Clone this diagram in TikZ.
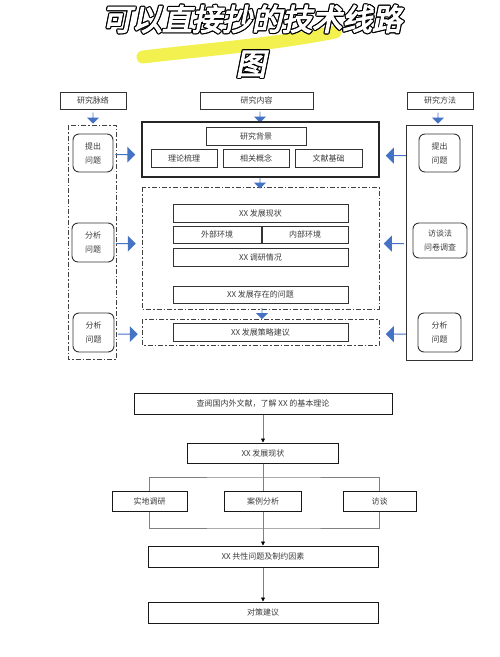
\documentclass[tikz,border=0pt]{standalone}
\usepackage{fontspec}
\usetikzlibrary{arrows.meta,shapes.arrows}
\newfontfamily\cjk{Noto Sans CJK SC}
\newfontfamily\cjkttl[FakeBold=4,FakeSlant=0.2]{Noto Sans CJK SC}
\definecolor{arrblue}{HTML}{4472C4}
\definecolor{txtgray}{HTML}{3A3A3A}
\definecolor{hilite}{HTML}{F2F03C}
\tikzset{
  box/.style={draw=black!80, line width=0.9pt, text=txtgray, inner sep=0pt,
    font=\cjk\fontsize{8}{9}\selectfont},
  rbox/.style={box, rounded corners=6pt, align=center,
    font=\cjk\fontsize{8}{14}\selectfont},
  fbox/.style={box, draw=black!90, line width=1pt},
  ddash/.style={draw=black!75, line width=0.9pt,
    dash pattern=on 5pt off 2pt on 1.5pt off 2pt},
  barrow/.style={single arrow, fill=arrblue, inner sep=0pt,
    single arrow head extend=3pt, minimum height=20pt, minimum width=16pt},
  sarrow/.style={barrow, rotate=-90, minimum height=11pt, minimum width=12pt,
    single arrow head extend=2.5pt},
  conn/.style={draw=black!50, line width=0.8pt},
  tip/.style={-{Triangle[length=4pt,width=4pt,color=black]}},
  ttl/.style={font=\cjkttl\fontsize{30}{32}\selectfont, inner sep=0pt}
}
\begin{document}
\begin{tikzpicture}[x=1pt, y=-1pt]
\useasboundingbox (0,0) rectangle (500,657);
% title
\draw [hilite, line width=13pt, line cap=round, opacity=0.9]
  (143,57) .. controls (200,50) and (270,45) .. (335,32);
\foreach \a in {0,45,...,315}{
  \node [ttl, text=black] (sh\a) at ([shift={(\a:1.2)}] 252,19) {可以直接抄的技术线路};
  \node [ttl, text=black] (shb\a) at ([shift={(\a:1.2)}] 251,64) {图};
}
\node [ttl, text=white] (title) at (252,19) {可以直接抄的技术线路};
\node [ttl, text=white] (title2) at (251,64) {图};

% headers
\node [box, minimum width=66, minimum height=17] (hmail) at (93,100.5) {研究脉络};
\node [box, minimum width=113, minimum height=17] (hcont) at (256.5,100.5) {研究内容};
\node [box, minimum width=66, minimum height=17] (hmeth) at (440,100.5) {研究方法};
\node [sarrow] (am) at (93,118) {};
\node [sarrow] (ac) at (260,117) {};
\node [sarrow] (ah) at (438,118) {};

% columns
\draw [ddash] (68,125) rectangle (116,359);
\draw [draw=black!80, line width=0.9pt] (406,125) rectangle (472,360);
\draw [draw=black!85, line width=1.6pt] (142,122) rectangle (379,177);
\draw [ddash] (142,187) rectangle (379,309);
\draw [ddash] (142,319) rectangle (379,345);

% research content
\node [box, minimum width=100, minimum height=18] (bg) at (256,136) {研究背景};
\node [box, minimum width=66, minimum height=18] (lilun) at (184,158) {理论梳理};
\node [box, minimum width=66, minimum height=18] (gainian) at (256,158) {相关概念};
\node [box, minimum width=67, minimum height=18] (wenxian) at (328.5,158) {文献基础};
\node [sarrow] (a1) at (260,183) {};
\node [box, minimum width=175, minimum height=18] (xianzhuang) at (260.5,213) {XX 发展现状};
\node [box, minimum width=88, minimum height=17] (waibu) at (217,234.5) {外部环境};
\node [box, minimum width=86, minimum height=17] (neibu) at (305,234.5) {内部环境};
\node [box, minimum width=175, minimum height=18] (diaoyan) at (260.5,257) {XX 调研情况};
\node [box, minimum width=175, minimum height=17] (wenti) at (260.5,294.5) {XX 发展存在的问题};
\node [sarrow] (a2) at (262,313.5) {};
\node [box, minimum width=175, minimum height=18] (celue) at (260.5,332) {XX 发展策略建议};

% left column
\node [rbox, minimum width=40, minimum height=38] (tichu1) at (93,153) {提出\\问题};
\node [rbox, minimum width=42, minimum height=39] (fenxi1) at (93,242.5) {分析\\问题};
\node [rbox, minimum width=41, minimum height=39] (fenxi2) at (93.5,332.5) {分析\\问题};
\node [barrow] (r1) at (125,154.5) {};
\node [barrow] (r2) at (125.5,243.5) {};
\node [barrow] (r3) at (127.5,334) {};

% right column
\node [rbox, minimum width=41, minimum height=38] (tichu2) at (439.5,153) {提出\\问题};
\node [rbox, minimum width=54, minimum height=35] (fangtan) at (440,240.5) {访谈法\\问卷调查};
\node [rbox, minimum width=43, minimum height=39] (fenxi3) at (439.5,332.5) {分析\\问题};
\node [barrow, rotate=180] (l1) at (396,155.5) {};
\node [barrow, rotate=180] (l2) at (394,243.5) {};
\node [barrow, rotate=180] (l3) at (396,334) {};

% flow chart
\node [fbox, minimum width=258, minimum height=21] (chayue) at (263,403.5) {查阅国内外文献，了解 XX 的基本理论};
\node [fbox, minimum width=151, minimum height=20] (xz) at (263,453) {XX 发展现状};
\node [fbox, minimum width=75, minimum height=20] (shidi) at (149.5,501) {实地调研};
\node [fbox, minimum width=77, minimum height=20] (anli) at (263,501) {案例分析};
\node [fbox, minimum width=73, minimum height=20] (ft) at (379.5,501) {访谈};
\node [fbox, minimum width=230, minimum height=21] (gongxing) at (263,556.5) {XX 共性问题及制约因素};
\node [fbox, minimum width=230, minimum height=21] (duice) at (263,612.5) {对策建议};
\coordinate (j1) at (263,477);
\coordinate (j2) at (263,528);
\draw [conn, tip] (chayue) -- (xz);
\draw [conn] (xz) -- (j1);
\draw [conn] (shidi) |- (j1) -| (ft);
\draw [conn] (j1) -- (anli);
\draw [conn] (shidi) |- (j2) -| (ft);
\draw [conn] (anli) -- (j2);
\draw [conn, tip] (j2) -- (gongxing);
\draw [conn, tip] (gongxing) -- (duice);
\end{tikzpicture}
\end{document}
